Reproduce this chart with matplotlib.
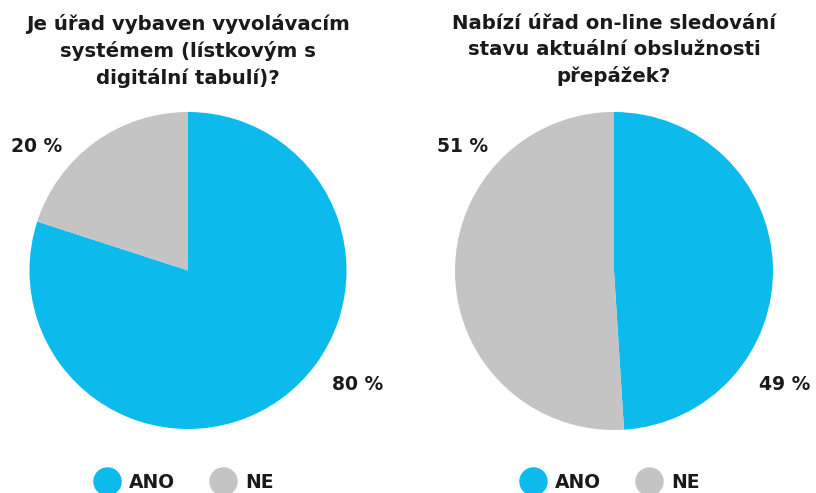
import matplotlib
matplotlib.use("Agg")
import matplotlib.pyplot as plt
from matplotlib.lines import Line2D

categories = ["ANO", "NE"]
left_values = [80, 20]
right_values = [49, 51]
left_title = "Je úřad vybaven vyvolávacím\nsystémem (lístkovým s\ndigitální tabulí)?"
right_title = "Nabízí úřad on-line sledování\nstavu aktuální obslužnosti\npřepážek?"

colors = ["#0DBAEC", "#C4C4C4"]
txt = "#1A1A1A"
plt.rcParams['font.family'] = ['DejaVu Sans']

W, H = 816, 493
fig = plt.figure(figsize=(W / 100, H / 100), dpi=100)
fig.patch.set_facecolor("white")

def px_axes(cx, cy, r):
    return fig.add_axes([(cx - r) / W, (H - cy - r) / H, 2 * r / W, 2 * r / H])

def draw(cx, cy, r, values, title, title_x, lab_pos):
    ax = px_axes(cx, cy, r)
    ax.pie(values, colors=colors, startangle=90, counterclock=False,
           radius=1.0, wedgeprops=dict(linewidth=0))
    ax.set_xlim(-1, 1)
    ax.set_ylim(-1, 1)
    ax.set_aspect("equal")
    ax.axis("off")
    for v, (lx, ly) in zip(values, lab_pos):
        fig.text(lx / W, 1 - ly / H, f"{v} %", ha="center", va="center",
                 fontsize=13.5, fontweight="bold", color=txt)
    fig.text(title_x / W, 1 - 14 / H, title, ha="center", va="top",
             fontsize=14.2, fontweight="bold", color=txt, linespacing=1.45)
    return ax

draw(188, 270.5, 158.5, left_values, left_title, 188,
     [(358, 384), (37, 146)])
draw(614, 271, 159, right_values, right_title, 614,
     [(785, 384), (463, 146)])

def legend(x0):
    handles = [Line2D([], [], marker="o", linestyle="none", markersize=19.5,
                      markerfacecolor=c, markeredgecolor=c) for c in colors]
    lg = fig.legend(handles, categories, loc="center left",
                    bbox_to_anchor=(x0 / W, 1 - 482 / H), ncol=2,
                    frameon=False, handletextpad=0.6, columnspacing=1.95,
                    borderpad=0, handlelength=1.2,
                    prop=dict(size=13.5, weight="bold"))
    for t in lg.get_texts():
        t.set_color(txt)

legend(86)
legend(512)

fig.savefig("out.png", dpi=100, facecolor="white")
